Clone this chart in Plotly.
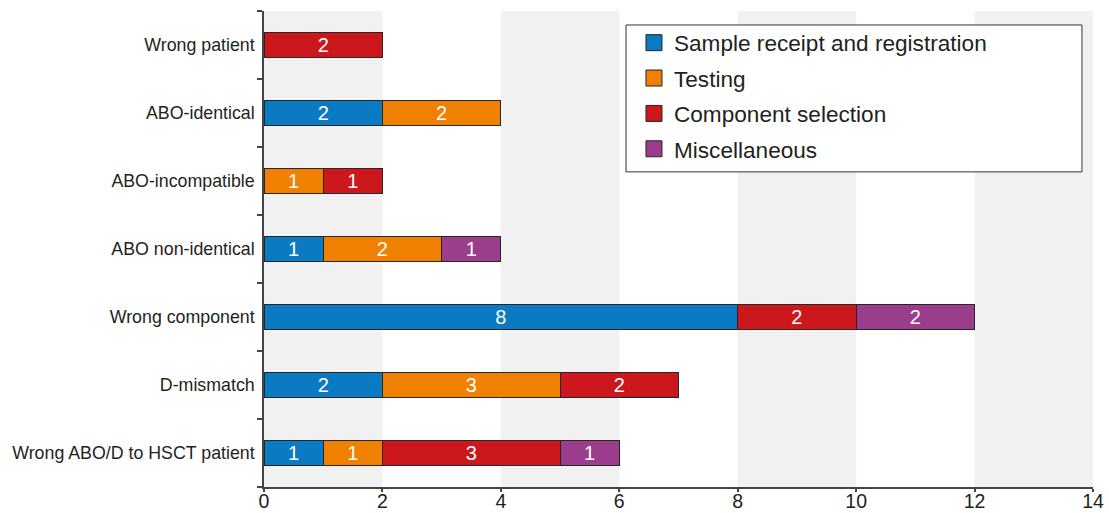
import plotly.graph_objects as go

# Error categories (top to bottom) and counts per stage
categories = [
    "Wrong patient",
    "ABO-identical",
    "ABO-incompatible",
    "ABO non-identical",
    "Wrong component",
    "D-mismatch",
    "Wrong ABO/D to HSCT patient",
]
sample_receipt = [None, 2, None, 1, 8, 2, 1]
testing = [None, 2, 1, 2, None, 3, 1]
component_selection = [2, None, 1, None, 2, 2, 3]
miscellaneous = [None, None, None, 1, 2, None, 1]

series_names = [
    "Sample receipt and registration",
    "Testing",
    "Component selection",
    "Miscellaneous",
]
series_values = [sample_receipt, testing, component_selection, miscellaneous]
series_colors = ["#0a7bc2", "#f08000", "#cc171d", "#9c3d8c"]

x_ticks = [0, 2, 4, 6, 8, 10, 12, 14]

FONT = "Liberation Sans"
TEXT = "#231f20"
OUTLINE = "#262626"

fig = go.Figure()
for i, (name, vals, color) in enumerate(zip(series_names, series_values, series_colors)):
    fig.add_trace(go.Bar(
        y=categories,
        x=vals,
        name=name,
        orientation="h",
        width=0.38,
        marker=dict(color=color, line=dict(color=OUTLINE, width=1)),
        text=[("" if v is None else str(v)) for v in vals],
        textposition="inside",
        insidetextanchor="middle",
        textangle=0,
        constraintext="none",
        textfont=dict(family=FONT, size=20, color="white"),
        showlegend=False,
        legendgroup=f"g{i}",
    ))
    # legend swatch (larger square than the default bar symbol)
    fig.add_trace(go.Scatter(
        x=[None], y=[None], mode="markers", name=name,
        marker=dict(symbol="square", size=16, color=color, line=dict(color=OUTLINE, width=1)),
        legendgroup=f"g{i}", showlegend=True, hoverinfo="skip",
    ))

# alternating background bands every other tick interval
shapes = []
for lo, hi in zip(x_ticks[0::2], x_ticks[1::2]):
    shapes.append(dict(type="rect", xref="x", yref="paper", x0=lo, x1=hi, y0=0, y1=1,
                       fillcolor="#f1f1f1", line=dict(width=0), layer="below"))
# legend frame
shapes.append(dict(type="rect", xref="paper", yref="paper", x0=0.4367, x1=0.9867, y0=0.662, y1=0.9706,
                   fillcolor="white", line=dict(color="#333333", width=1), layer="above"))

fig.update_layout(
    width=1109,
    height=513,
    margin=dict(l=264, r=16, t=11, b=26),
    paper_bgcolor="white",
    plot_bgcolor="white",
    barmode="stack",
    shapes=shapes,
    font=dict(family=FONT, color=TEXT),
    legend=dict(
        x=0.4463, y=0.978, xanchor="left", yanchor="top",
        bgcolor="rgba(0,0,0,0)", borderwidth=0,
        font=dict(family=FONT, size=22.6, color=TEXT),
        tracegroupgap=3, traceorder="grouped",
        itemclick=False, itemdoubleclick=False,
    ),
    xaxis=dict(
        range=[0, 14], tickvals=x_ticks, showgrid=False, zeroline=False,
        showline=True, linecolor="#444444", linewidth=1.5,
        ticks="outside", ticklen=3, tickcolor="#444444", tickwidth=1.5,
        ticklabelstandoff=-7,
        tickfont=dict(family=FONT, size=19.5, color=TEXT),
        automargin=False,
    ),
    yaxis=dict(
        categoryorder="array", categoryarray=categories[::-1],
        range=[-0.5, len(categories) - 0.5],
        showgrid=False, zeroline=False,
        showline=True, linecolor="#444444", linewidth=1.5,
        ticks="outside", ticklen=5, tickcolor="#444444", tickwidth=1.5,
        tickson="boundaries", ticklabelstandoff=4,
        tickfont=dict(family=FONT, size=17.8, color=TEXT),
        automargin=False,
    ),
)

fig.write_html("out.html")
